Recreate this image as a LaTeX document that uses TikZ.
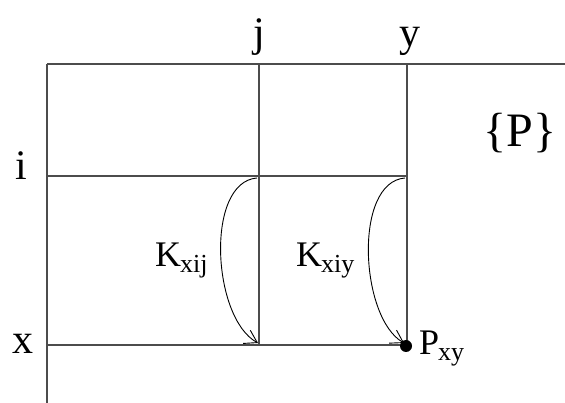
\documentclass[tikz,border=0pt]{standalone}
\usepackage{fontspec}
\setmainfont{Liberation Serif}
\usetikzlibrary{arrows.meta}
\tikzset{
  gridline/.style={draw=black!70, line width=1.6pt},
  curvearrow/.style={draw=black, line width=0.9pt, -{Straight Barb[length=12pt,width=15pt,line width=0.9pt]}},
  lbl/.style={font=\fontsize{42}{42}\selectfont, inner sep=0pt, anchor=base},
  klbl/.style={font=\fontsize{36}{36}\selectfont, inner sep=0pt, anchor=base west},
}
\newcommand{\subtxt}[1]{\kern-1pt\raisebox{-6pt}{\fontsize{26}{26}\selectfont #1}}
\begin{document}
\begin{tikzpicture}[x=1pt,y=-1pt]
\useasboundingbox (0,0) rectangle (565,403);
% grid coordinates
\coordinate (tl) at (47,64);
\coordinate (tj) at (259,64);
\coordinate (ty) at (407,64);
\coordinate (tr) at (565,64);
\coordinate (il) at (47,176);
\coordinate (ij) at (259,176);
\coordinate (iy) at (407,176);
\coordinate (xl) at (47,345);
\coordinate (xj) at (259,345);
\coordinate (xy) at (407,345);
\coordinate (bl) at (47,403);
% lines
\draw[gridline] (tl) -- (tr);
\draw[gridline] (tl) -- (bl);
\draw[gridline] (tj) -- (xj);
\draw[gridline] (ty) -- (xy);
\draw[gridline] (il) -- (iy);
\draw[gridline] (xl) -- (xy);
% labels
\node[lbl] (lj) at (259,47) {j};
\node[lbl] (ly) at (410,47) {y};
\node[lbl] (li) at (21,180) {i};
\node[lbl] (lx) at (23,353) {x};
\node[font=\fontsize{48}{48}\selectfont, inner sep=0pt, anchor=base] (lp) at (520,147) {\{P\}};
\node[klbl] (kxij) at (155,267) {K\subtxt{xij}};
\node[klbl] (kxiy) at (296,267) {K\subtxt{xiy}};
\node[klbl] (pxy) at (419,354) {P\subtxt{xy}};
% dot
\fill (406,346) circle (6pt);
\node[inner sep=0pt] (dot) at (406,346) {};
% curved arrows
\draw[curvearrow] (257,178) .. controls (205,182) and (212,318) .. (258,343);
\draw[curvearrow] (405,178) .. controls (353,182) and (360,318) .. (404,343);
\end{tikzpicture}
\end{document}
